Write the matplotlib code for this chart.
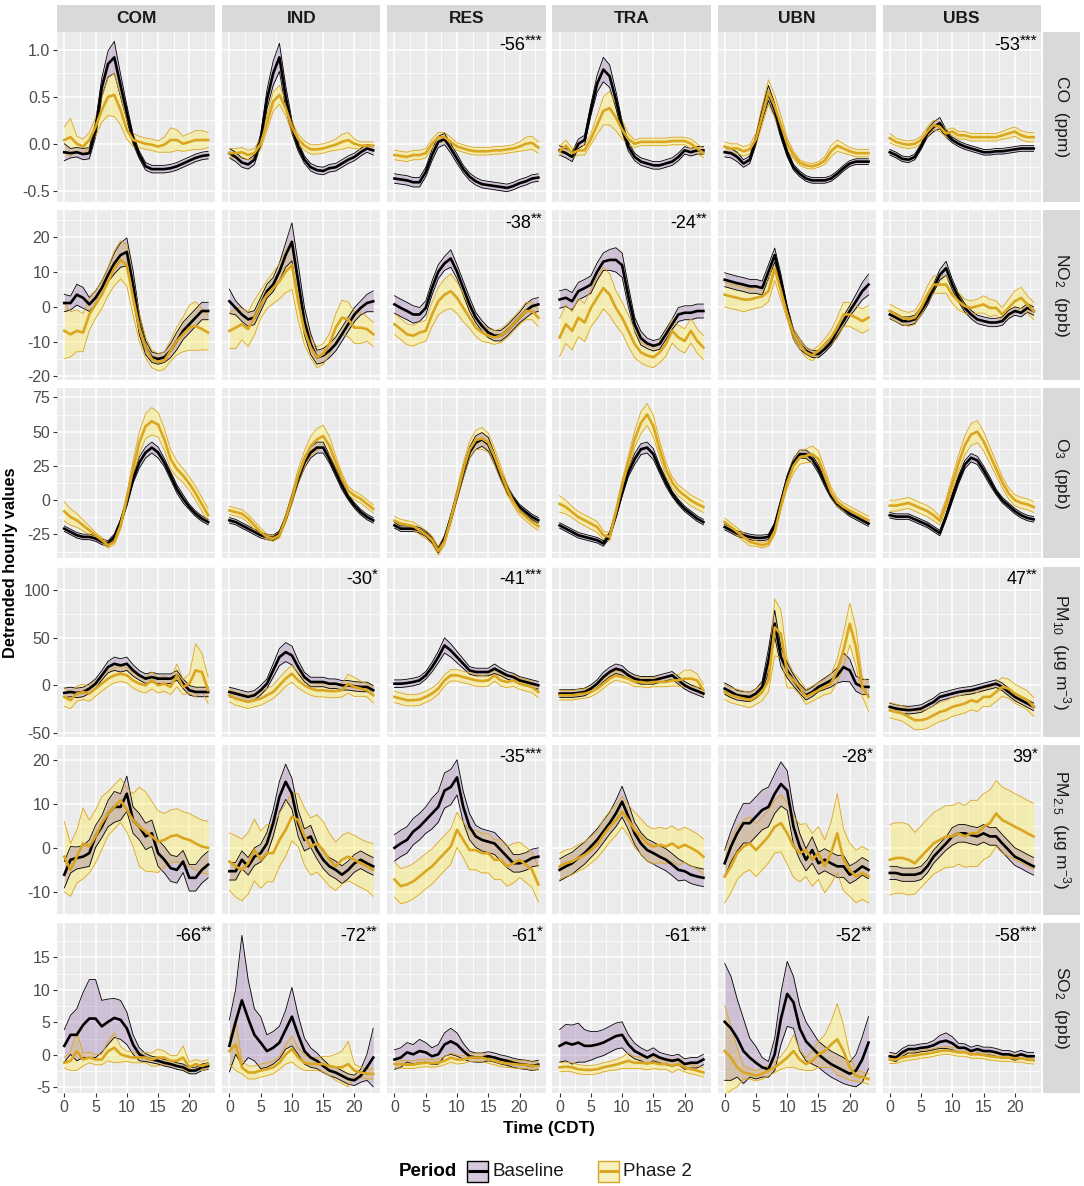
import matplotlib.pyplot as plt
from matplotlib.patches import Rectangle
import numpy as np

plt.rcParams['font.family'] = ['Liberation Sans', 'DejaVu Sans']
plt.rcParams['mathtext.fontset'] = 'custom'
plt.rcParams['mathtext.rm'] = 'Liberation Sans'
plt.rcParams['mathtext.it'] = 'Liberation Sans:italic'
plt.rcParams['mathtext.bf'] = 'Liberation Sans:bold'
plt.rcParams['axes.unicode_minus'] = False

SITES = ["COM", "IND", "RES", "TRA", "UBN", "UBS"]
HOURS = list(range(24))

# ---- CO (ppm) ----
co_base = {
    "COM": [-0.09,-0.10,-0.09,-0.11,-0.10,0.15,0.60,0.85,0.92,0.62,0.33,0.05,-0.12,-0.24,-0.27,-0.27,-0.27,-0.26,-0.24,-0.21,-0.18,-0.15,-0.13,-0.12],
    "IND": [-0.10,-0.14,-0.20,-0.22,-0.17,0.04,0.47,0.75,0.92,0.50,0.18,-0.03,-0.17,-0.25,-0.28,-0.29,-0.26,-0.25,-0.21,-0.17,-0.14,-0.09,-0.05,-0.07],
    "RES": [-0.37,-0.38,-0.39,-0.41,-0.41,-0.30,-0.12,0.02,0.05,-0.05,-0.16,-0.27,-0.35,-0.40,-0.43,-0.44,-0.45,-0.46,-0.47,-0.45,-0.42,-0.40,-0.37,-0.36],
    "TRA": [-0.07,-0.10,-0.14,0.00,0.04,0.36,0.64,0.79,0.72,0.47,0.18,-0.03,-0.14,-0.19,-0.21,-0.23,-0.23,-0.21,-0.19,-0.14,-0.07,-0.09,-0.07,-0.07],
    "UBN": [-0.09,-0.10,-0.14,-0.21,-0.17,0.04,0.32,0.54,0.36,0.11,-0.10,-0.25,-0.32,-0.37,-0.39,-0.39,-0.39,-0.37,-0.32,-0.26,-0.21,-0.19,-0.19,-0.19],
    "UBS": [-0.09,-0.12,-0.16,-0.17,-0.14,-0.03,0.11,0.18,0.22,0.11,0.04,0.00,-0.03,-0.05,-0.07,-0.09,-0.09,-0.08,-0.08,-0.07,-0.06,-0.05,-0.05,-0.05],
}
co_base_se = {
    "COM": [0.09,0.05,0.05,0.06,0.06,0.08,0.10,0.14,0.17,0.12,0.08,0.05,0.04,0.04,0.04,0.04,0.04,0.04,0.04,0.04,0.04,0.04,0.04,0.04],
    "IND": [0.05,0.05,0.05,0.05,0.05,0.06,0.10,0.13,0.15,0.12,0.07,0.05,0.04,0.04,0.04,0.04,0.04,0.04,0.04,0.04,0.04,0.04,0.04,0.05],
    "RES": [0.05,0.05,0.05,0.05,0.05,0.05,0.06,0.06,0.06,0.05,0.05,0.04,0.04,0.04,0.04,0.04,0.04,0.04,0.04,0.04,0.04,0.04,0.04,0.04],
    "TRA": [0.05,0.05,0.05,0.05,0.05,0.06,0.09,0.13,0.12,0.09,0.06,0.05,0.04,0.04,0.04,0.04,0.04,0.04,0.04,0.04,0.04,0.04,0.04,0.04],
    "UBN": [0.05,0.05,0.05,0.04,0.04,0.05,0.07,0.08,0.07,0.05,0.04,0.03,0.03,0.03,0.03,0.03,0.03,0.03,0.03,0.03,0.03,0.03,0.03,0.03],
    "UBS": [0.03,0.03,0.03,0.03,0.03,0.03,0.04,0.05,0.06,0.04,0.03,0.03,0.03,0.03,0.03,0.03,0.03,0.03,0.03,0.03,0.03,0.03,0.03,0.03],
}
co_ph2 = {
    "COM": [0.04,0.07,0.00,-0.03,0.04,0.18,0.36,0.50,0.52,0.36,0.15,0.04,0.02,0.00,-0.01,-0.03,-0.01,0.04,0.04,0.00,0.02,0.04,0.04,0.04],
    "IND": [-0.10,-0.10,-0.09,-0.12,-0.10,0.00,0.22,0.45,0.52,0.38,0.18,0.05,-0.02,-0.06,-0.06,-0.05,-0.03,-0.01,0.02,0.04,0.00,-0.02,-0.02,-0.02],
    "RES": [-0.12,-0.13,-0.14,-0.12,-0.12,-0.10,0.00,0.07,0.07,0.02,-0.03,-0.05,-0.07,-0.08,-0.08,-0.08,-0.07,-0.07,-0.06,-0.05,-0.03,0.00,0.01,-0.04],
    "TRA": [-0.08,-0.02,-0.10,-0.07,-0.07,0.05,0.20,0.35,0.38,0.28,0.15,0.05,0.00,0.02,0.02,0.02,0.02,0.02,0.03,0.03,0.03,0.00,-0.05,-0.10],
    "UBN": [-0.03,-0.05,-0.05,-0.08,-0.06,0.05,0.30,0.55,0.40,0.20,0.00,-0.12,-0.20,-0.23,-0.24,-0.22,-0.18,-0.08,-0.02,-0.05,-0.08,-0.10,-0.10,-0.10],
    "UBS": [0.06,0.02,0.00,-0.01,0.00,0.04,0.13,0.20,0.18,0.11,0.13,0.09,0.09,0.07,0.07,0.07,0.07,0.07,0.09,0.11,0.13,0.09,0.07,0.07],
}
co_ph2_se = {
    "COM": [0.14,0.20,0.08,0.08,0.08,0.10,0.13,0.20,0.23,0.16,0.10,0.07,0.06,0.06,0.06,0.06,0.08,0.13,0.11,0.08,0.09,0.10,0.10,0.08],
    "IND": [0.05,0.05,0.05,0.05,0.05,0.06,0.08,0.10,0.10,0.08,0.06,0.05,0.05,0.05,0.05,0.05,0.05,0.06,0.08,0.08,0.05,0.04,0.04,0.04],
    "RES": [0.05,0.05,0.05,0.05,0.05,0.05,0.05,0.05,0.05,0.05,0.04,0.04,0.04,0.04,0.04,0.04,0.04,0.04,0.04,0.04,0.05,0.07,0.07,0.06],
    "TRA": [0.05,0.06,0.05,0.05,0.05,0.06,0.10,0.15,0.18,0.14,0.10,0.06,0.04,0.04,0.04,0.04,0.04,0.04,0.04,0.04,0.04,0.05,0.05,0.05],
    "UBN": [0.05,0.05,0.05,0.05,0.05,0.06,0.10,0.13,0.12,0.10,0.06,0.04,0.03,0.03,0.03,0.03,0.04,0.06,0.06,0.05,0.04,0.04,0.04,0.04],
    "UBS": [0.05,0.04,0.04,0.04,0.04,0.04,0.05,0.05,0.05,0.04,0.04,0.04,0.04,0.04,0.04,0.04,0.04,0.04,0.04,0.05,0.05,0.05,0.05,0.05],
}
co_notes = {"RES": ("-56", "***"), "UBS": ("-53", "***")}

# ---- NO2 (ppb) ----
no2_base = {
    "COM": [1.1,1.1,3.5,2.6,0.7,2.6,5.4,9.2,12.5,14.9,15.8,6.4,-5.0,-11.7,-14.5,-15.0,-14.5,-12.6,-9.8,-6.9,-5.0,-3.1,-1.2,-1.2],
    "IND": [1.6,-0.3,-2.2,-3.6,-3.1,0.7,4.5,6.4,10.1,14.9,18.7,7.3,-4.1,-10.7,-14.5,-14.0,-12.6,-10.7,-7.9,-5.0,-2.2,-0.3,1.1,1.6],
    "RES": [0.7,-0.3,-1.2,-2.2,-2.2,-0.3,5.4,10.1,12.5,13.9,10.1,5.4,0.7,-3.1,-5.5,-7.4,-8.3,-8.3,-6.9,-5.0,-3.1,-1.2,0.2,0.7],
    "TRA": [2.1,2.6,1.6,4.5,5.4,6.4,10.1,13.0,13.5,13.5,12.0,3.0,-5.0,-9.0,-10.5,-11.2,-10.7,-7.9,-5.0,-2.2,-1.7,-1.7,-1.2,-1.2],
    "UBN": [7.8,7.3,6.8,6.4,5.9,5.9,5.4,10.1,14.9,7.3,-1.2,-7.9,-10.7,-12.6,-13.6,-13.6,-12.1,-10.2,-6.9,-4.1,-1.2,1.6,4.5,6.4],
    "UBS": [-2.2,-3.1,-4.1,-4.1,-3.6,-1.2,1.6,5.4,9.2,11.1,6.4,2.6,-0.3,-2.2,-3.6,-4.1,-4.5,-4.5,-4.1,-2.2,-1.2,-1.7,-0.3,-1.2],
}
no2_base_se = {
    "COM": [2.5,2.0,3.0,3.0,2.0,2.0,2.0,2.0,3.0,3.5,4.0,4.0,3.0,2.0,1.5,1.5,1.5,2.0,2.5,2.5,2.5,2.5,2.5,2.5],
    "IND": [3.5,2.0,2.0,2.0,2.0,2.0,2.0,2.0,2.5,3.5,5.5,5.0,4.0,3.0,2.0,2.0,2.0,2.0,2.0,2.0,2.0,2.0,2.5,3.0],
    "RES": [2.5,2.5,2.5,2.5,2.0,2.0,2.0,2.0,2.0,2.5,2.0,2.0,2.0,1.5,1.5,1.5,1.5,1.5,1.5,1.5,1.5,2.0,2.0,2.0],
    "TRA": [2.5,2.5,2.5,2.5,2.5,2.5,2.5,2.5,3.0,3.5,3.5,3.0,2.0,2.0,1.5,1.5,1.5,1.5,1.5,2.0,2.0,2.0,2.0,2.0],
    "UBN": [2.0,2.0,2.0,2.0,2.0,2.0,2.0,2.0,2.0,2.0,1.5,1.5,1.5,1.0,1.0,1.0,1.0,1.0,1.5,1.5,1.5,2.0,2.5,3.0],
    "UBS": [1.2,1.2,1.2,1.2,1.2,1.2,1.2,1.2,1.5,2.0,1.5,1.2,1.2,1.2,1.2,1.2,1.2,1.2,1.2,1.2,1.2,1.2,1.2,1.2],
}
no2_ph2 = {
    "COM": [-6.9,-7.9,-6.9,-7.4,-2.2,0.7,3.5,7.3,11.1,13.5,12.0,2.6,-6.0,-11.7,-15.0,-15.9,-15.5,-12.6,-9.8,-7.9,-6.0,-5.5,-6.4,-7.4],
    "IND": [-6.9,-6.0,-5.0,-6.4,-3.1,0.7,3.5,5.4,7.3,10.1,12.0,1.6,-6.9,-11.7,-14.5,-13.6,-10.7,-6.0,-3.1,-3.6,-6.0,-6.0,-6.4,-7.9],
    "RES": [-5.0,-6.4,-7.9,-8.3,-7.4,-6.9,-2.2,1.6,3.5,4.5,2.6,-0.3,-3.1,-6.0,-7.4,-8.3,-8.8,-8.3,-6.9,-5.0,-3.1,-1.2,-1.2,-3.1],
    "TRA": [-8.8,-5.0,-6.9,-3.1,-4.5,-0.3,2.6,5.4,3.5,-0.3,-3.1,-6.9,-10.7,-13.1,-14.0,-14.5,-13.1,-10.7,-6.9,-8.8,-9.8,-6.9,-9.8,-11.7],
    "UBN": [3.5,3.0,2.6,2.1,2.1,2.6,3.0,4.5,11.1,4.5,-2.2,-7.9,-10.7,-13.1,-14.0,-12.6,-10.7,-8.8,-6.0,-2.2,-2.2,-3.1,-4.1,-3.1],
    "UBS": [-1.2,-2.2,-3.1,-3.6,-3.1,-0.3,3.5,6.4,6.4,6.4,3.5,1.6,0.2,-0.3,0.2,0.7,-0.3,-0.3,-2.2,-0.3,1.6,2.6,0.7,-1.2],
}
no2_ph2_se = {
    "COM": [8.0,6.5,6.0,5.5,4.5,4.0,4.0,4.0,5.0,5.5,6.0,5.0,4.0,3.0,2.5,2.5,2.5,3.0,4.0,5.0,6.5,7.0,6.0,5.0],
    "IND": [5.0,6.0,4.5,5.0,5.0,4.0,4.0,4.5,5.0,6.0,7.0,5.5,4.0,3.0,3.0,3.0,3.0,4.0,5.0,5.0,4.5,4.5,3.5,3.5],
    "RES": [3.0,3.0,3.0,3.0,3.0,3.0,3.5,4.0,4.5,5.0,4.5,4.0,3.0,2.5,2.5,2.0,2.0,2.0,2.0,2.0,2.0,2.5,2.5,2.5],
    "TRA": [5.5,5.5,5.5,5.5,5.5,5.5,6.0,6.0,6.0,5.0,4.5,4.5,4.0,3.0,3.0,3.0,3.0,3.5,3.5,3.5,3.5,3.5,3.5,3.5],
    "UBN": [3.5,3.5,3.5,3.5,3.0,3.0,3.0,3.0,3.5,2.5,1.5,1.5,1.5,1.5,1.5,1.5,1.5,2.0,3.0,3.5,3.5,3.5,3.5,3.5],
    "UBS": [2.0,2.0,2.0,2.0,2.0,2.0,2.5,2.5,2.5,2.5,2.5,2.5,2.0,2.0,2.0,2.5,2.5,2.0,2.0,2.5,3.0,3.0,2.5,2.5],
}
no2_notes = {"RES": ("-38", "**"), "TRA": ("-24", "**")}

# ---- O3 (ppb) ----
o3_base = {
    "COM": [-20.8,-23.2,-25.6,-26.8,-26.8,-28.0,-30.4,-31.6,-26.8,-16.0,-1.4,15.5,27.5,34.8,38.4,34.8,27.5,17.9,8.2,1.0,-5.0,-9.9,-13.5,-16.0],
    "IND": [-14.7,-16.0,-18.4,-20.8,-23.2,-25.6,-26.8,-27.5,-24.4,-13.5,1.0,15.5,27.5,34.8,38.4,38.4,30.0,20.3,10.6,2.2,-3.9,-8.7,-12.3,-14.7],
    "RES": [-18.4,-20.8,-20.8,-20.8,-22.0,-24.4,-29.2,-36.5,-28.0,-13.5,3.4,20.3,34.8,42.0,44.4,40.8,30.0,17.9,8.2,1.0,-5.0,-8.7,-12.3,-14.7],
    "TRA": [-18.4,-20.8,-23.2,-25.6,-26.8,-28.0,-29.2,-31.6,-25.6,-11.1,5.8,20.3,30.0,37.2,38.4,33.6,22.7,13.0,4.6,-1.4,-6.3,-9.9,-13.5,-16.0],
    "UBN": [-19.6,-22.0,-24.4,-25.6,-26.8,-27.5,-27.5,-26.8,-18.4,-1.4,15.5,27.5,33.6,33.6,30.0,22.7,13.0,3.4,-2.7,-6.3,-9.9,-12.3,-14.7,-17.1],
    "UBS": [-11.0,-12.0,-12.0,-12.0,-14.0,-16.0,-18.0,-21.0,-24.0,-12.0,2.0,15.0,26.0,31.0,29.0,22.0,14.0,6.0,0.0,-4.0,-8.0,-11.0,-13.0,-14.0],
}
o3_base_se = {
    "COM": [2,2,2,2,2,2,2,2,2,2,3,3,4,4,4,4,3,3,3,3,2,2,2,2],
    "IND": [2,2,2,2,2,2,2,2,2,2,3,3,4,4,4,4,3,3,3,2,2,2,2,2],
    "RES": [2,2,2,2,2,2,2,2,2,3,3,4,4,5,5,5,4,3,3,2,2,2,2,2],
    "TRA": [2,2,2,2,2,2,2,2,2,2,3,3,4,4,4,4,3,3,2,2,2,2,2,2],
    "UBN": [2,2,2,2,2,2,2,2,2,2,3,3,3,3,3,3,3,2,2,2,2,2,2,2],
    "UBS": [2,2,2,2,2,2,2,2,2,2,3,3,3,3,3,3,3,2,2,2,2,2,2,2],
}
o3_ph2 = {
    "COM": [-8.2,-12.3,-14.7,-18.4,-22.0,-25.6,-29.2,-32.9,-30.4,-18.4,1.0,22.7,42.0,54.0,57.6,55.2,44.4,29.9,22.7,18.0,12.0,5.0,-3.0,-11.0],
    "IND": [-7.5,-8.7,-9.9,-13.5,-18.4,-23.2,-26.8,-28.0,-25.6,-13.5,1.0,17.9,30.0,39.6,44.4,46.8,39.6,27.5,15.5,7.0,3.4,1.0,-2.7,-6.3],
    "RES": [-15.0,-17.0,-18.0,-19.0,-22.0,-25.0,-29.0,-37.0,-30.0,-14.0,4.0,22.0,37.0,44.0,45.0,42.0,32.0,20.0,8.0,-1.0,-8.0,-12.0,-16.0,-19.0],
    "TRA": [-2.7,-5.0,-8.7,-12.3,-14.7,-17.1,-19.6,-25.6,-26.8,-8.7,10.6,27.5,44.4,56.5,62.6,54.0,37.2,22.7,13.0,7.0,3.4,-0.2,-2.7,-5.0],
    "UBN": [-16.0,-19.6,-23.2,-26.8,-30.4,-31.6,-32.9,-31.6,-23.2,-3.9,13.0,25.0,31.2,32.4,33.6,30.0,17.9,5.8,-1.4,-5.0,-7.5,-9.9,-12.3,-14.7],
    "UBS": [-4.0,-4.0,-3.0,-2.0,-4.0,-6.0,-8.0,-11.0,-15.0,-3.0,12.0,27.0,40.0,48.0,50.0,43.0,33.0,23.0,13.0,5.0,0.0,-2.0,-3.0,-5.0],
}
o3_ph2_se = {
    "COM": [7,6,5,4,3,2,2,2,2,3,4,6,8,9,10,9,8,7,6,5,5,5,5,5],
    "IND": [3,3,3,3,3,3,2,2,2,3,4,5,6,7,8,8,7,5,4,3,3,3,3,3],
    "RES": [3,3,3,3,3,3,3,3,3,3,4,5,6,7,8,7,6,5,4,3,3,3,3,3],
    "TRA": [6,5,4,4,4,4,4,3,3,3,4,5,6,8,8,8,6,5,4,4,4,4,4,4],
    "UBN": [3,3,3,3,3,2,2,2,2,3,4,5,5,5,6,6,5,4,3,3,3,3,3,3],
    "UBS": [4,4,4,4,4,4,4,4,3,4,5,6,7,8,8,7,6,5,4,4,4,4,4,4],
}
o3_notes = {}

# ---- PM10 (ug m-3) ----
pm10_base = {
    "COM": [-8.0,-7.0,-8.0,-7.0,-3.5,1.7,10.5,19.2,22.7,21.0,22.7,15.7,10.5,7.0,8.7,7.0,7.0,7.0,10.5,1.7,-5.2,-7.0,-7.0,-7.0],
    "IND": [-7.0,-8.7,-10.5,-12.2,-10.5,-5.2,1.7,15.7,29.7,35.0,31.5,19.2,8.7,3.5,3.5,3.5,1.7,1.7,0.0,0.0,-1.0,-1.7,-1.7,-5.2],
    "RES": [1.7,1.7,2.4,3.5,5.2,10.5,19.2,29.7,42.0,36.7,29.7,22.7,15.7,14.0,14.0,14.0,17.5,14.0,10.5,8.7,5.2,3.5,1.7,0.0],
    "TRA": [-8.7,-8.7,-8.7,-8.0,-7.0,-3.5,1.7,8.7,14.0,17.5,15.7,10.5,7.0,5.2,5.2,5.2,7.0,8.7,10.5,5.2,0.0,-3.5,-6.0,-8.7],
    "UBN": [-3.5,-7.0,-10.5,-11.5,-12.2,-8.7,-1.7,26.2,65.0,29.7,15.7,5.2,-3.5,-10.5,-7.0,-1.7,1.7,5.2,10.5,19.2,15.7,1.7,-1.7,-1.7],
    "UBS": [-22.7,-24.5,-25.5,-26.2,-25.5,-24.5,-21.0,-17.5,-12.2,-10.5,-8.7,-7.0,-6.0,-5.2,-3.5,-1.7,0.0,1.7,-1.7,-7.0,-12.2,-15.7,-19.2,-22.7],
}
pm10_base_se = {
    "COM": [5,5,5,5,5,5,5,6,7,7,7,6,5,5,5,5,5,5,5,5,5,5,5,5],
    "IND": [5,5,5,5,5,5,5,7,9,10,10,7,5,5,5,5,5,5,5,5,5,5,5,5],
    "RES": [4,4,4,4,4,4,5,6,8,7,6,5,4,4,4,4,5,4,4,4,4,4,4,4],
    "TRA": [4,4,4,4,4,4,4,5,5,5,5,4,4,4,4,4,4,4,4,4,4,4,4,4],
    "UBN": [6,6,5,5,5,5,6,12,14,10,8,6,5,5,5,5,6,7,8,15,12,8,8,8],
    "UBS": [4,4,4,4,4,4,4,4,4,4,4,4,4,4,4,4,4,4,4,4,4,4,4,4],
}
pm10_ph2 = {
    "COM": [-12.2,-15.7,-8.7,-7.0,-8.7,-3.5,1.7,7.0,10.5,12.2,10.5,5.2,1.7,0.0,5.2,0.0,1.7,-1.7,10.5,-1.7,1.7,15.7,14.0,-5.2],
    "IND": [-10.5,-14.0,-15.7,-17.5,-15.7,-14.0,-10.5,-7.0,0.0,7.0,12.2,5.2,0.0,-3.5,-5.2,-5.2,-6.0,-6.0,-5.2,1.7,-1.7,-3.5,-5.2,-10.5],
    "RES": [-12.2,-14.0,-15.7,-15.7,-15.0,-12.2,-8.7,-3.5,5.2,10.5,10.5,8.7,7.0,5.2,4.5,5.2,10.5,5.2,3.5,5.2,1.7,0.0,-1.7,-7.0],
    "TRA": [-10.5,-10.5,-10.5,-9.4,-8.7,-7.0,-3.5,1.7,7.0,10.5,8.7,7.0,3.5,3.5,2.4,3.5,3.5,3.5,5.2,5.2,7.0,7.0,5.2,-5.2],
    "UBN": [-7.0,-10.5,-12.2,-14.0,-15.7,-12.2,-7.0,5.2,61.0,54.0,12.2,5.2,-1.7,-12.2,-8.7,-5.2,-1.7,1.7,15.7,36.7,64.7,40.2,-1.7,-12.2],
    "UBS": [-26.2,-28.0,-29.7,-33.2,-36.7,-36.7,-35.0,-31.5,-28.0,-26.2,-22.7,-21.0,-19.2,-15.7,-17.5,-12.2,-12.2,-7.0,-1.7,-3.5,-8.7,-12.2,-15.7,-22.7],
}
pm10_ph2_se = {
    "COM": [10,9,8,8,8,8,8,8,8,8,8,8,8,8,9,8,8,8,12,8,10,28,20,14],
    "IND": [7,7,7,7,7,7,7,7,8,8,9,8,7,7,7,7,7,7,7,10,10,8,7,8],
    "RES": [6,6,6,6,6,6,6,6,6,6,6,6,6,6,6,6,6,6,6,6,6,6,6,6],
    "TRA": [5,5,5,5,5,5,5,5,5,5,5,5,5,5,5,5,5,5,6,6,9,9,7,6],
    "UBN": [8,8,8,8,8,8,9,12,30,25,15,8,8,8,8,8,8,10,12,18,22,20,10,15],
    "UBS": [8,8,8,9,10,10,10,10,10,10,10,10,10,10,10,10,10,10,10,10,10,10,10,10],
}
pm10_notes = {"IND": ("-30", "*"), "RES": ("-41", "***"), "UBS": ("47", "**")}

# ---- PM2.5 (ug m-3) ----
pm25_base = {
    "COM": [-6.1,-2.7,-2.3,-2.0,-1.2,2.6,4.8,7.8,9.3,9.3,12.3,6.3,4.8,2.6,3.3,-1.2,-2.7,-4.6,-5.0,-3.1,-6.8,-6.8,-5.0,-3.8],
    "IND": [-5.3,-5.3,-2.7,-4.2,-2.0,-1.2,1.0,5.6,11.6,15.0,12.3,5.6,1.8,2.6,-0.5,-2.7,-4.2,-5.0,-6.1,-5.0,-3.5,-2.7,-3.5,-4.2],
    "RES": [0.0,1.0,1.8,3.7,4.8,6.3,7.8,9.3,13.0,13.8,16.0,9.3,4.8,2.6,1.8,1.4,1.0,-0.5,-2.0,-3.5,-3.5,-3.1,-2.3,-2.0],
    "TRA": [-5.0,-4.2,-3.5,-2.3,-1.2,0.3,1.8,3.7,5.6,7.8,10.5,7.1,3.3,1.0,-0.5,-1.2,-2.0,-2.7,-3.8,-5.0,-5.3,-6.1,-6.5,-6.8],
    "UBN": [-3.5,0.3,3.3,5.6,5.6,7.1,8.6,9.3,12.3,14.5,13.0,4.8,0.3,-2.7,-0.5,-3.5,-2.7,-3.5,-4.2,-4.2,-6.1,-5.3,-4.2,-5.0],
    "UBS": [-5.7,-5.7,-6.1,-6.1,-6.1,-5.7,-4.2,-2.0,-0.5,1.0,2.6,3.3,3.3,2.9,2.6,3.3,2.6,2.6,1.0,-0.5,-2.0,-2.7,-3.5,-4.2],
}
pm25_base_se = {
    "COM": [3.0,3.0,2.5,2.5,3.0,2.5,2.5,3.0,3.5,3.0,4.0,3.0,3.0,3.0,3.0,3.0,3.0,3.0,3.0,2.5,3.0,3.0,3.0,3.0],
    "IND": [2.0,2.0,2.0,2.0,2.0,2.0,2.5,3.0,3.5,4.0,3.5,3.0,2.5,2.5,2.0,2.0,2.0,2.0,2.0,2.0,2.0,2.0,2.0,2.0],
    "RES": [3.0,3.0,3.0,3.0,3.0,3.0,3.5,3.5,4.0,4.0,4.0,3.5,3.0,2.5,2.5,2.5,2.5,2.5,2.5,2.0,2.0,2.0,2.0,2.0],
    "TRA": [2.5,2.5,2.5,2.5,2.5,2.5,2.5,2.5,2.5,3.0,3.5,3.0,2.5,2.5,2.5,2.5,2.5,2.5,2.5,2.5,2.0,2.0,2.0,2.0],
    "UBN": [3.0,3.5,4.0,4.5,4.5,4.5,4.5,4.5,4.5,5.0,4.5,4.0,3.0,2.5,3.0,2.5,2.5,2.5,2.5,2.5,2.0,2.0,2.0,2.0],
    "UBS": [1.5,1.5,1.5,1.5,1.5,1.5,1.5,1.5,1.5,1.5,2.0,2.0,2.0,2.0,2.0,2.0,2.0,2.0,2.0,2.0,2.0,2.0,2.0,2.0],
}
pm25_ph2 = {
    "COM": [-2.0,-5.0,-2.0,1.0,0.3,2.6,5.6,7.8,9.3,10.8,8.6,6.3,4.8,3.7,2.6,1.4,1.8,2.6,2.9,2.2,1.8,1.0,0.3,0.0],
    "IND": [-3.1,-4.2,-5.0,-3.5,-0.5,-2.7,-1.2,-1.2,1.8,4.1,7.1,6.3,2.6,0.3,1.0,-0.5,-2.7,-4.2,-2.7,-2.0,-2.7,-3.5,-4.2,-5.0],
    "RES": [-7.2,-8.7,-8.3,-7.6,-6.5,-5.3,-4.2,-2.7,-1.2,0.3,4.1,1.8,-0.5,-0.5,-1.2,-1.2,-2.7,-2.7,-4.2,-3.5,-2.7,-3.8,-5.0,-8.3],
    "TRA": [-4.2,-3.5,-3.1,-2.3,-1.6,-0.5,0.7,2.9,4.8,6.3,8.2,6.3,4.1,2.6,1.0,0.3,0.7,0.3,1.0,0.0,0.7,0.0,-0.8,-2.0],
    "UBN": [-6.5,-4.2,-1.2,0.3,1.0,-0.5,1.0,2.6,4.8,5.6,3.3,0.3,-1.2,-0.5,-2.7,-1.2,-4.2,-1.2,3.3,-2.7,-5.0,-6.5,-5.7,-6.5],
    "UBS": [-2.7,-2.3,-2.3,-2.7,-3.5,-2.0,-0.5,1.0,1.8,2.6,2.6,3.3,2.6,3.3,3.3,4.8,5.6,7.8,6.3,5.6,4.8,4.1,3.3,2.6],
}
pm25_ph2_se = {
    "COM": [8.0,6.0,6.0,8.0,6.0,6.0,6.0,5.0,5.0,5.0,5.0,6.0,9.0,9.0,8.0,7.0,6.0,6.0,6.0,6.0,6.0,6.0,6.0,6.0],
    "IND": [6.5,7.0,7.0,7.0,7.0,6.5,6.5,6.5,6.0,6.0,5.5,6.0,6.5,6.5,6.5,6.5,6.0,5.5,5.5,5.5,5.5,5.5,5.5,6.0],
    "RES": [4.0,4.0,4.0,4.0,4.0,4.0,4.0,4.0,4.0,4.0,4.0,4.0,4.5,4.5,4.5,4.5,4.5,4.5,4.5,4.5,4.0,4.0,4.0,4.0],
    "TRA": [3.0,3.0,3.0,3.0,3.0,3.0,3.0,3.5,3.5,3.5,3.5,3.5,4.0,4.0,4.0,4.0,4.0,4.0,4.0,4.0,4.0,4.0,4.0,4.0],
    "UBN": [6.0,6.0,6.0,6.0,6.0,6.0,6.0,6.0,6.0,6.5,7.0,7.0,6.5,6.0,6.0,6.0,6.0,7.0,9.0,7.0,6.0,6.0,6.0,6.0],
    "UBS": [8.0,8.0,8.0,8.0,7.0,7.0,7.0,7.0,7.0,7.0,7.0,7.0,7.0,7.5,7.5,7.5,7.5,7.5,7.5,7.5,7.5,7.5,7.5,7.5],
}
pm25_notes = {"RES": ("-35", "***"), "UBN": ("-28", "*"), "UBS": ("39", "*")}

# ---- SO2 (ppb) ----
so2_base = {
    "COM": [1.4,3.1,3.1,4.6,5.6,5.6,4.4,5.1,5.7,5.4,4.1,1.6,0.1,-0.4,-0.7,-0.9,-1.2,-1.4,-1.7,-1.9,-2.4,-2.4,-1.9,-1.7],
    "IND": [1.4,5.1,8.4,5.6,3.1,1.9,0.6,1.1,1.9,3.9,5.9,3.1,0.6,-0.4,-0.9,-1.7,-2.4,-2.7,-3.2,-3.7,-3.9,-3.2,-1.9,-0.4],
    "RES": [-0.7,-0.4,0.4,0.1,0.6,0.4,-0.2,0.1,1.6,2.1,1.6,0.6,-0.2,-0.4,-0.4,-0.2,-0.4,-0.7,-0.9,-1.2,-1.4,-1.5,-1.7,-1.5],
    "TRA": [1.4,1.9,1.6,1.9,1.4,1.4,1.6,1.9,2.4,2.9,3.1,1.6,0.6,0.1,-0.4,0.1,-0.4,-0.7,-0.9,-0.7,-1.4,-1.2,-1.2,-0.7],
    "UBN": [5.1,4.1,2.6,0.6,-0.4,-1.2,-1.9,-2.2,0.1,5.6,9.4,8.1,4.1,2.1,1.1,0.1,-0.7,-1.4,-1.9,-2.4,-2.9,-2.4,-0.7,1.9],
    "UBS": [-0.2,-0.4,0.4,0.9,0.9,1.1,1.2,1.5,2.0,2.2,1.8,1.1,1.1,0.6,0.9,0.6,0.6,0.4,0.1,0.1,-0.2,0.1,-0.2,-0.2],
}
so2_base_se = {
    "COM": [2.5,3.0,4.0,5.0,6.0,6.0,4.0,3.5,3.0,3.0,2.5,1.5,1.0,0.6,0.5,0.5,0.5,0.5,0.5,0.5,0.5,0.5,0.5,0.5],
    "IND": [4.0,5.0,10.0,6.0,4.0,4.0,2.5,2.5,2.5,3.0,4.5,3.0,2.0,1.5,1.2,1.0,0.8,0.8,0.8,0.8,0.8,1.0,2.0,4.5],
    "RES": [1.5,1.5,1.5,1.5,1.8,1.5,1.3,1.5,1.8,2.0,1.8,1.2,0.8,0.7,0.7,0.7,0.7,0.7,0.7,0.7,0.7,0.7,0.7,0.7],
    "TRA": [2.5,2.8,3.0,3.0,2.5,2.2,2.0,2.0,2.0,2.0,2.0,1.5,1.2,1.0,1.0,1.0,0.8,0.8,0.8,0.8,0.8,0.8,0.8,0.8],
    "UBN": [9.0,8.0,6.0,5.0,3.0,2.5,1.5,1.2,2.5,4.0,5.0,4.0,3.5,3.0,2.5,2.0,2.0,2.0,2.0,2.0,1.8,2.5,3.5,4.0],
    "UBS": [0.6,0.6,0.6,0.6,0.6,0.6,0.6,0.7,1.0,1.2,1.0,0.7,0.6,0.6,0.6,0.6,0.6,0.6,0.6,0.6,0.6,0.6,0.6,0.6],
}
so2_ph2 = {
    "COM": [-1.2,-0.9,0.6,-0.7,-0.4,-0.7,-0.7,0.6,1.1,0.1,-0.2,-0.4,-0.4,-0.4,-0.7,-0.4,-0.4,-0.9,-0.9,-0.4,-1.9,-1.4,-1.7,-1.4],
    "IND": [0.6,1.6,-1.9,-2.7,-2.7,-2.4,-2.2,-1.9,-1.2,0.1,0.9,-0.4,-1.2,-1.4,-1.4,-1.4,-1.7,-1.9,-1.9,-1.4,-2.4,-2.7,-2.9,-2.9],
    "RES": [-1.4,-1.4,-1.5,-1.5,-1.3,-1.2,-1.3,-1.2,-0.9,-0.4,-0.7,-0.7,-0.4,-0.4,-0.4,-0.7,-0.9,-1.2,-1.3,-1.4,-1.5,-1.5,-1.7,-1.7],
    "TRA": [-1.9,-1.8,-1.9,-2.2,-2.3,-2.3,-2.2,-1.9,-1.7,-1.5,-1.2,-0.9,-1.2,-1.2,-1.3,-1.2,-1.4,-1.4,-1.7,-1.4,-1.9,-2.2,-2.4,-2.7],
    "UBN": [0.6,-0.4,-1.9,-2.7,-2.9,-3.2,-2.9,-2.4,-1.9,-1.2,-0.4,0.6,-0.7,-1.4,-0.9,0.1,0.6,1.6,2.4,0.6,-1.9,-3.2,-3.4,-3.7],
    "UBS": [-0.7,-0.7,-0.4,-0.2,-0.1,0.1,0.2,0.4,0.6,0.7,0.6,0.4,0.4,0.1,0.1,0.0,-0.2,-0.3,-0.4,-0.4,-0.5,-0.5,-0.7,-0.8],
}
so2_ph2_se = {
    "COM": [0.8,1.5,3.0,1.0,0.8,0.8,0.8,1.5,2.3,1.2,0.8,0.8,0.8,0.8,1.0,1.3,1.0,0.8,0.8,1.8,0.8,0.7,0.7,0.7],
    "IND": [2.0,4.0,1.0,1.0,1.0,1.0,1.0,1.0,1.0,1.5,2.0,1.5,1.2,1.0,1.0,1.2,1.5,2.0,2.5,3.5,1.0,0.8,0.8,0.8],
    "RES": [0.6,0.6,0.6,0.6,0.6,0.6,0.6,0.6,0.6,0.7,0.7,0.6,0.6,0.6,0.6,0.6,0.6,0.6,0.6,0.6,0.6,0.6,0.6,0.6],
    "TRA": [0.7,0.7,0.7,0.7,0.7,0.7,0.7,0.7,0.7,0.8,0.9,1.2,0.9,0.9,1.0,0.9,0.8,0.8,1.0,0.8,0.7,0.7,0.7,0.7],
    "UBN": [7.0,5.0,3.0,1.0,0.8,0.8,0.8,0.8,0.8,1.0,1.5,2.5,1.5,1.0,1.5,2.0,2.5,3.5,5.5,4.0,2.0,0.8,0.8,0.8],
    "UBS": [0.6,0.6,0.6,0.6,0.6,0.6,0.6,0.6,0.6,0.6,0.6,0.6,0.6,0.6,0.6,0.6,0.6,0.6,0.6,0.6,0.6,0.6,0.6,0.6],
}
so2_notes = {"COM": ("-66", "**"), "IND": ("-72", "**"), "RES": ("-61", "*"),
             "TRA": ("-61", "***"), "UBN": ("-52", "**"), "UBS": ("-58", "***")}

ROW_LABELS = ["CO  (ppm)", "NO$_2$  (ppb)", "O$_3$  (ppb)",
              "PM$_{10}$  (µg m$^{-3}$)", "PM$_{2.5}$  (µg m$^{-3}$)", "SO$_2$  (ppb)"]
ROW_YLIM = [(-0.62, 1.19), (-21.1, 27.8), (-42.5, 81.6), (-54, 125), (-15.2, 23.4), (-5.85, 20.3)]
ROW_TICKS = [[-0.5, 0.0, 0.5, 1.0], [-20, -10, 0, 10, 20], [-25, 0, 25, 50, 75],
             [-50, 0, 50, 100], [-10, 0, 10, 20], [-5, 0, 5, 10, 15]]
ROW_FMT = ["{:.1f}", "{:.0f}", "{:.0f}", "{:.0f}", "{:.0f}", "{:.0f}"]
X_TICKS = [0, 5, 10, 15, 20]

rows = [
    (co_base, co_base_se, co_ph2, co_ph2_se, co_notes),
    (no2_base, no2_base_se, no2_ph2, no2_ph2_se, no2_notes),
    (o3_base, o3_base_se, o3_ph2, o3_ph2_se, o3_notes),
    (pm10_base, pm10_base_se, pm10_ph2, pm10_ph2_se, pm10_notes),
    (pm25_base, pm25_base_se, pm25_ph2, pm25_ph2_se, pm25_notes),
    (so2_base, so2_base_se, so2_ph2, so2_ph2_se, so2_notes),
]

BASE_LINE, BASE_FILL, BASE_ALPHA = "black", "#8A5BA0", 0.30
PH2_LINE, PH2_FILL, PH2_ALPHA = "#DAA520", "#FFEB5A", 0.40
PANEL_BG = "#EBEBEB"
STRIP_BG = "#D9D9D9"

W, H = 1084, 1186
fig = plt.figure(figsize=(W / 100, H / 100), dpi=100)

# overlay in pixel coordinates for strips, labels and legend
ov = fig.add_axes([0, 0, 1, 1])
ov.set_xlim(0, W)
ov.set_ylim(H, 0)
ov.axis("off")

PX0, PW, PSTEP = 57.1, 158.2, 165.1
PY0, PH, PYSTEP = 32.0, 170.0, 178.2


def box(x0, y0, w, h):
    return [x0 / W, 1 - (y0 + h) / H, w / W, h / H]


def minor_breaks(major, lo, hi):
    step = major[1] - major[0]
    cand = [major[0] - step / 2] + [m + step / 2 for m in major]
    return [c for c in cand if lo <= c <= hi]


x = np.array(HOURS)
for i, (b, bse, p, pse, notes) in enumerate(rows):
    top = PY0 + i * PYSTEP
    lo_lim, hi_lim = ROW_YLIM[i]
    for j, site in enumerate(SITES):
        left = PX0 + j * PSTEP
        ax = fig.add_axes(box(left, top, PW, PH))
        ax.set_facecolor(PANEL_BG)
        for s in ax.spines.values():
            s.set_visible(False)

        bm, bs = np.array(b[site]), np.array(bse[site])
        pm, ps = np.array(p[site]), np.array(pse[site])
        # yellow ribbon first, purple over it gives the tan overlap of the original
        ax.fill_between(x, pm - ps, pm + ps, color=PH2_FILL, alpha=PH2_ALPHA, lw=0, zorder=2)
        ax.fill_between(x, bm - bs, bm + bs, color=BASE_FILL, alpha=BASE_ALPHA, lw=0, zorder=2)
        for yy in (bm - bs, bm + bs):
            ax.plot(x, yy, color=BASE_LINE, lw=0.6, zorder=3)
        for yy in (pm - ps, pm + ps):
            ax.plot(x, yy, color=PH2_LINE, lw=0.6, zorder=3)
        ax.plot(x, bm, color=BASE_LINE, lw=1.9, zorder=4)
        ax.plot(x, pm, color=PH2_LINE, lw=1.9, zorder=4)

        ax.set_xlim(-1.15, 24.15)
        ax.set_ylim(lo_lim, hi_lim)
        ax.set_xticks(X_TICKS)
        ax.set_xticks(minor_breaks(X_TICKS, -1.15, 24.15), minor=True)
        ax.set_yticks(ROW_TICKS[i])
        ax.set_yticks(minor_breaks(ROW_TICKS[i], lo_lim, hi_lim), minor=True)
        ax.grid(which="major", color="white", lw=1.1, zorder=1)
        ax.grid(which="minor", color="white", lw=0.55, zorder=1)
        ax.set_axisbelow(True)
        ax.tick_params(which="minor", length=0)
        ax.tick_params(which="major", color="#333333", length=3, width=0.8,
                       labelsize=11.5, labelcolor="#4D4D4D", pad=2)
        if j == 0:
            ax.set_yticklabels([ROW_FMT[i].format(t) for t in ROW_TICKS[i]])
        else:
            ax.tick_params(axis="y", left=False, labelleft=False)
        if i == len(rows) - 1:
            ax.set_xticklabels([str(t) for t in X_TICKS])
        else:
            ax.tick_params(axis="x", bottom=False, labelbottom=False)

        if site in notes:
            val, stars = notes[site]
            st = ax.text(1 - 3.0 / PW, 1 - 1.5 / PH, stars, transform=ax.transAxes,
                         ha="right", va="top", fontsize=11, color="black", zorder=6)
            ax.annotate(val, xy=(0, 1), xycoords=st, xytext=(0.3, -2.2),
                        textcoords="offset points", ha="right", va="top",
                        fontsize=13, color="black", zorder=6)

        if i == 0:
            ov.add_patch(Rectangle((left, 4.5), PW, 27.5, facecolor=STRIP_BG, edgecolor="none"))
            ov.text(left + PW / 2, 18.5, site, ha="center", va="center",
                    fontsize=12.5, fontweight="bold", color="#1A1A1A")

    ov.add_patch(Rectangle((1043, top), 37, PH, facecolor=STRIP_BG, edgecolor="none"))
    ov.text(1061.5, top + PH / 2, ROW_LABELS[i], rotation=-90, ha="center", va="center",
            fontsize=12.5, color="#1A1A1A")

panels_mid_y = PY0 + (5 * PYSTEP + PH) / 2
panels_mid_x = PX0 + (5 * PSTEP + PW) / 2
ov.text(11, panels_mid_y, "Detrended hourly values", rotation=90, ha="center", va="center",
        fontsize=11.8, fontweight="bold")
ov.text(panels_mid_x, 1129, "Time (CDT)", ha="center", va="center", fontsize=12.4, fontweight="bold")

# legend
ov.text(427.5, 1171, "Period", ha="center", va="center", fontsize=13.5, fontweight="bold")
legend_items = [("Baseline", 467, BASE_LINE, "#D6C8DC"),
                ("Phase 2", 598, PH2_LINE, "#F6EFC0")]
for label, kx, lc, fc in legend_items:
    ov.add_patch(Rectangle((kx, 1160.5), 21, 21, facecolor=fc, edgecolor=lc, lw=1.0))
    ov.plot([kx + 0.5, kx + 20.5], [1171, 1171], color=lc, lw=2.2, solid_capstyle="butt")
    ov.text(kx + 25, 1171, label, ha="left", va="center", fontsize=13.5, color="#1A1A1A")

fig.savefig("out.png", dpi=100)
